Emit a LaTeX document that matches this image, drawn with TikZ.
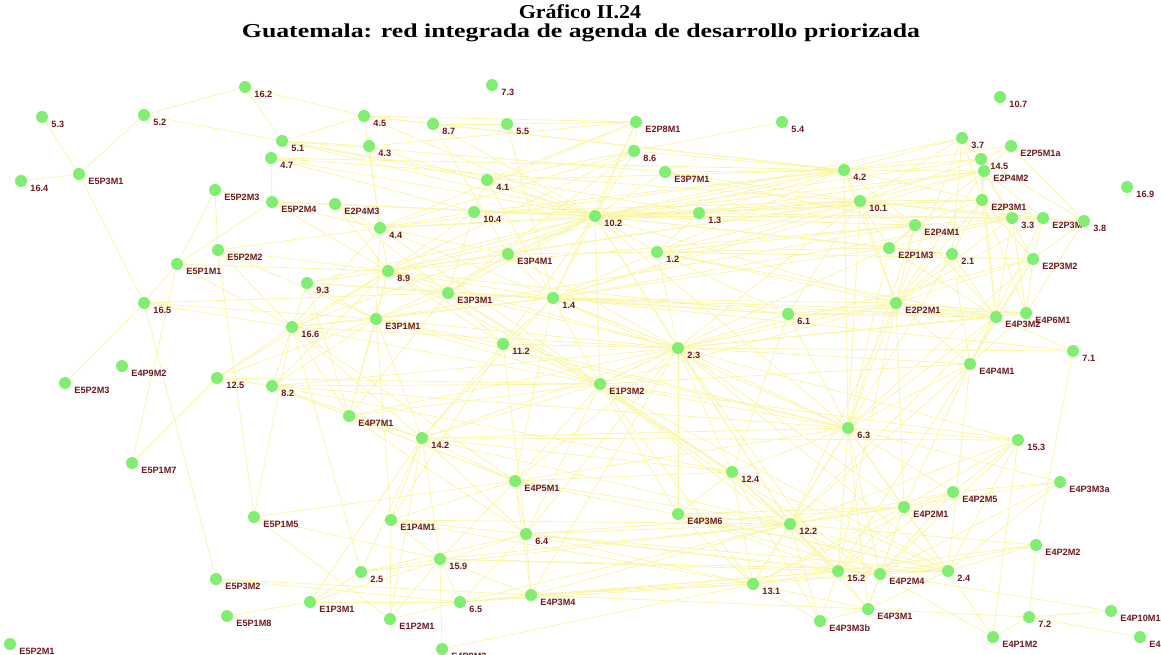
\documentclass[tikz,border=0pt]{standalone}
\usepackage{fontspec}
\setmainfont{Liberation Serif}
\newfontfamily\lblfont{Liberation Sans}
\usetikzlibrary{backgrounds}
\definecolor{dotgreen}{RGB}{128,238,112}
\definecolor{edgeyellow}{RGB}{250,245,165}
\definecolor{lblred}{RGB}{112,24,28}
\tikzset{
    my-dot/.style={
      circle, fill=dotgreen, minimum size=0.3cm, inner sep=0pt
    },
    my-label/.style={
      anchor=west, inner sep=0pt, label distance=3.8pt, text=lblred,
      font=\lblfont\bfseries\fontsize{6.5}{7}\selectfont
    },
    my-edge/.style={
      draw=edgeyellow, line width=0.55pt
    },
    my-title/.style={
      inner sep=0pt, font=\bfseries\fontsize{14}{16}\selectfont
    },
}
\newcommand{\dotnode}[4]{\node[my-dot, label={[my-label]-38:#4}] (#1) at (#2,#3) {};}

\begin{document}
\begin{tikzpicture}[x={(0.025cm,0)}, y={(0,-0.025cm)}]

        \useasboundingbox (0,0) rectangle (1161,655);
        \clip (0,0) rectangle (1161,655);

        % TITLE
        \node[my-title] (TITLE1) at (580,12) {\scalebox{1.12}[1]{Gráfico II.24}};
        \node[my-title] (TITLE2) at (581,33) {\scalebox{1.31}[1]{Guatemala: red integrada de agenda de desarrollo priorizada}};

        % TOP LEFT
        \dotnode{N16-2}{245}{87}{16.2}
        \dotnode{N5-3}{42}{117}{5.3}
        \dotnode{N5-2}{144}{115}{5.2}
        \dotnode{N4-5}{364}{116}{4.5}
        \dotnode{N5-1}{282}{141}{5.1}
        \dotnode{N4-3}{369}{146}{4.3}
        \dotnode{N4-7}{271}{158}{4.7}
        \dotnode{E5P3M1}{79}{174}{E5P3M1}
        \dotnode{N16-4}{21}{181}{16.4}
        \dotnode{E5P2M3A}{215}{190}{E5P2M3}
        \dotnode{E5P2M4}{272}{202}{E5P2M4}
        \dotnode{E2P4M3}{335}{204}{E2P4M3}
        \dotnode{N4-4}{380}{228}{4.4}

        % TOP CENTRE
        \dotnode{N7-3}{492}{85}{7.3}
        \dotnode{N8-7}{433}{124}{8.7}
        \dotnode{N5-5}{507}{124}{5.5}
        \dotnode{E2P8M1}{636}{122}{E2P8M1}
        \dotnode{N8-6}{634}{151}{8.6}
        \dotnode{E3P7M1}{665}{172}{E3P7M1}
        \dotnode{N4-1}{487}{180}{4.1}
        \dotnode{N10-4}{474}{212}{10.4}
        \dotnode{N10-2}{595}{216}{10.2}
        \dotnode{N1-3}{699}{213}{1.3}

        % TOP RIGHT
        \dotnode{N10-7}{1000}{97}{10.7}
        \dotnode{N5-4}{782}{122}{5.4}
        \dotnode{N3-7}{962}{138}{3.7}
        \dotnode{E2P5M1a}{1011}{146}{E2P5M1a}
        \dotnode{N14-5}{981}{159}{14.5}
        \dotnode{N4-2}{844}{170}{4.2}
        \dotnode{E2P4M2}{984}{171}{E2P4M2}
        \dotnode{N16-9}{1127}{187}{16.9}
        \dotnode{N10-1}{860}{201}{10.1}
        \dotnode{E2P3M1}{982}{200}{E2P3M1}
        \dotnode{N3-3}{1012}{218}{3.3}
        \dotnode{E2P3M3}{1043}{218}{E2P3M}
        \dotnode{N3-8}{1084}{221}{3.8}
        \dotnode{E2P4M1}{915}{225}{E2P4M1}
        \dotnode{E2P1M3}{889}{248}{E2P1M3}
        \dotnode{N2-1}{952}{254}{2.1}
        \dotnode{E2P3M2}{1033}{259}{E2P3M2}
        \dotnode{E2P2M1}{896}{303}{E2P2M1}
        \dotnode{N6-1}{788}{314}{6.1}
        \dotnode{E4P3M2}{996}{317}{E4P3M2}
        \dotnode{E4P6M1}{1026}{313}{E4P6M1}
        \dotnode{N7-1}{1073}{351}{7.1}
        \dotnode{E4P4M1}{970}{364}{E4P4M1}

        % MIDDLE LEFT
        \dotnode{E5P2M2}{218}{250}{E5P2M2}
        \dotnode{E5P1M1}{177}{264}{E5P1M1}
        \dotnode{N8-9}{388}{271}{8.9}
        \dotnode{N9-3}{307}{283}{9.3}
        \dotnode{N16-5}{144}{303}{16.5}
        \dotnode{E3P1M1}{376}{319}{E3P1M1}
        \dotnode{N16-6}{292}{327}{16.6}
        \dotnode{E4P9M2}{122}{366}{E4P9M2}
        \dotnode{E5P2M3B}{65}{383}{E5P2M3}
        \dotnode{N12-5}{217}{378}{12.5}
        \dotnode{N8-2}{272}{386}{8.2}
        \dotnode{E4P7M1}{349}{416}{E4P7M1}
        \dotnode{E5P1M7}{132}{463}{E5P1M7}

        % MIDDLE
        \dotnode{E3P4M1}{508}{254}{E3P4M1}
        \dotnode{N1-2}{657}{252}{1.2}
        \dotnode{E3P3M1}{448}{293}{E3P3M1}
        \dotnode{N1-4}{553}{298}{1.4}
        \dotnode{N11-2}{503}{344}{11.2}
        \dotnode{N2-3}{678}{348}{2.3}
        \dotnode{E1P3M2}{600}{384}{E1P3M2}
        \dotnode{N14-2}{422}{438}{14.2}
        \dotnode{E4P5M1}{515}{481}{E4P5M1}
        \dotnode{N12-4}{732}{472}{12.4}

        % MIDDLE RIGHT
        \dotnode{N6-3}{848}{428}{6.3}
        \dotnode{N15-3}{1018}{440}{15.3}
        \dotnode{E4P3M3a}{1060}{482}{E4P3M3a}
        \dotnode{E4P2M5}{953}{492}{E4P2M5}
        \dotnode{E4P2M1}{904}{507}{E4P2M1}

        % BOTTOM LEFT
        \dotnode{E5P1M5}{254}{517}{E5P1M5}
        \dotnode{E5P3M2}{216}{579}{E5P3M2}
        \dotnode{N2-5}{361}{572}{2.5}
        \dotnode{E1P3M1}{310}{602}{E1P3M1}
        \dotnode{E5P1M8}{227}{616}{E5P1M8}
        \dotnode{E5P2M1}{10}{644}{E5P2M1}

        % BOTTOM CENTRE
        \dotnode{E1P4M1}{391}{520}{E1P4M1}
        \dotnode{E4P3M6}{678}{514}{E4P3M6}
        \dotnode{N6-4}{526}{534}{6.4}
        \dotnode{N15-9}{440}{559}{15.9}
        \dotnode{N13-1}{753}{584}{13.1}
        \dotnode{N6-5}{460}{602}{6.5}
        \dotnode{E4P3M4}{531}{595}{E4P3M4}
        \dotnode{E1P2M1}{390}{619}{E1P2M1}
        \dotnode{E4P8M2}{442}{649}{E4P8M2}

        % BOTTOM RIGHT
        \dotnode{N12-2}{790}{524}{12.2}
        \dotnode{E4P2M2}{1036}{545}{E4P2M2}
        \dotnode{N15-2}{838}{571}{15.2}
        \dotnode{E4P2M4}{880}{574}{E4P2M4}
        \dotnode{N2-4}{948}{571}{2.4}
        \dotnode{E4P3M1}{868}{609}{E4P3M1}
        \dotnode{E4P3M3b}{820}{621}{E4P3M3b}
        \dotnode{N7-2}{1029}{617}{7.2}
        \dotnode{E4P10M1}{1111}{611}{E4P10M1}
        \dotnode{E4P1M2}{993}{637}{E4P1M2}
        \dotnode{E4P1M1}{1140}{637}{E4P1M1}

        % EDGES
        \begin{pgfonlayer}{background}
        % top left
        \foreach \a/\b in {E5P3M1/N5-3, E5P3M1/N16-4, E5P3M1/N5-2, E5P3M1/N16-5,
            N5-2/N16-2, N5-2/N5-1, N16-2/N5-1, N16-2/N4-5,
            N4-5/N5-1, N4-5/E2P8M1, N4-5/N8-7, N4-5/N4-4, N4-5/N4-2, N4-5/N10-2,
            N8-7/N5-5, N8-7/N10-2, N8-7/N4-2, N8-7/E3P4M1, N5-5/E2P8M1, N5-5/N1-4,
            N5-1/N4-1, N5-1/N10-2, N5-1/N1-3, N5-1/E3P7M1, N5-1/N4-3,
            N4-7/E5P2M4, N4-7/N10-2, N4-7/N4-2, N4-7/N10-4, N4-7/N10-1,
            N4-3/N4-4, N4-3/N10-2, N4-3/E2P8M1,
            E5P2M3A/E5P1M1, E5P2M3A/E5P2M2, E5P2M3A/N4-4,
            E5P2M4/E5P1M1, E5P2M4/E2P4M3, E5P2M4/N10-2, E5P2M4/N8-9,
            E2P4M3/N4-4, E2P4M3/N10-2, E2P4M3/N8-9, E2P4M3/E3P3M1,
            N4-4/N10-4, N4-4/N10-2, N4-4/N8-9, N4-4/N1-3, N4-4/E3P4M1, N4-4/E2P8M1,
            N4-4/N8-6, N4-4/N16-6, N4-4/E3P1M1, N4-4/N4-2, N4-4/N2-3, N4-4/E1P3M2}
            \draw[my-edge] (\a) -- (\b);
        % top centre
        \foreach \a/\b in {N4-1/N10-2, N4-1/N10-4, N4-1/N4-2, N4-1/E2P8M1, N4-1/N1-4, N5-4/N4-1,
            N10-4/N10-2, N10-4/N4-2, N10-4/N1-3, N10-4/N8-9, N10-4/E3P3M1, N10-4/N10-1,
            N10-2/N1-3, N10-2/N4-2, N10-2/N10-1, N10-2/E2P4M1, N10-2/E2P3M1, N10-2/N3-3,
            N10-2/N8-9, N10-2/E3P4M1, N10-2/N1-4, N10-2/N2-3, N10-2/E1P3M2, N10-2/N1-2,
            N10-2/N8-6, N10-2/E2P8M1, N10-2/E3P7M1, N10-2/E3P3M1, N10-2/N11-2, N10-2/E2P1M3,
            N10-2/E2P2M1, N10-2/N3-7, N10-2/N14-5, N10-2/E2P4M2, N10-2/N6-3, N10-2/E3P1M1,
            N10-2/N16-6, N10-2/N9-3, N10-2/N12-2, N10-2/E2P3M3, N10-2/N2-1,
            N1-3/N4-2, N1-3/N10-1, N1-3/E2P3M1, N1-3/N3-3, N1-3/N1-2, N1-3/E2P4M2,
            E2P8M1/N8-6, E2P8M1/N1-4, N8-6/N4-2, N8-6/N8-9, N8-6/E3P3M1,
            E3P7M1/N4-2, E3P7M1/N10-1, E3P7M1/E2P4M1}
            \draw[my-edge] (\a) -- (\b);
        % top right
        \foreach \a/\b in {N4-2/N3-7, N4-2/N14-5, N4-2/E2P4M2, N4-2/E2P3M1, N4-2/N10-1,
            N4-2/E2P2M1, N4-2/N1-2, N4-2/N6-3, N4-2/N8-9, N4-2/E2P4M1, N4-2/E2P5M1a,
            N3-7/N14-5, N3-7/E2P4M2, N3-7/N10-1, N3-7/E2P3M1, N3-7/N2-1, N3-7/E2P2M1,
            N14-5/E2P4M2, N14-5/N3-8, N14-5/N10-1, N14-5/E2P3M1, N14-5/E4P3M2,
            E2P5M1a/E2P4M2, E2P5M1a/N3-8, E2P5M1a/N14-5,
            E2P4M2/E2P3M1, E2P4M2/N3-3, E2P4M2/E2P3M3, E2P4M2/N10-1, E2P4M2/E2P1M3,
            E2P4M2/E2P3M2, E2P4M2/E2P2M1, E2P4M2/N1-4,
            N10-1/E2P3M1, N10-1/N3-3, N10-1/E2P3M3, N10-1/E2P2M1, N10-1/E2P4M1, N10-1/N1-2,
            N10-1/N1-4, N10-1/N6-3, N10-1/N2-3, N10-1/E2P1M3, N10-1/N6-1, N10-1/E3P4M1, N10-1/N8-9,
            E2P3M1/N3-3, E2P3M1/E2P3M3, E2P3M1/E4P3M2, E2P3M1/E2P4M1, E2P3M1/E2P3M2,
            E2P3M1/E4P6M1, E2P3M1/E2P2M1, E2P3M1/N2-1,
            N3-3/E2P3M3, N3-3/E4P6M1, N3-3/E2P4M1, N3-3/E2P2M1, N3-3/N3-8, N3-3/E2P1M3,
            N3-3/N1-4, N3-3/E4P3M2, E2P3M3/N3-8, E2P3M3/E2P3M2, E2P3M3/E4P4M1, E2P3M3/E2P2M1,
            N3-8/E2P3M2, N3-8/E4P6M1,
            E2P4M1/E2P2M1, E2P4M1/E2P1M3, E2P4M1/N6-3, E2P4M1/E4P3M2, E2P4M1/N1-2,
            E2P4M1/N8-9, E2P4M1/E3P1M1,
            E2P1M3/N2-1, E2P1M3/E4P3M2, E2P1M3/N6-3, E2P1M3/N1-2, E2P1M3/N1-4, E2P1M3/E1P3M2,
            N2-1/E4P3M2, N2-1/E2P2M1, N2-1/E4P4M1, N2-1/N6-3,
            E2P3M2/E2P2M1, E2P3M2/E4P4M1, E2P3M2/E4P3M2, E2P3M2/E4P6M1, E2P3M2/N2-3,
            E2P3M2/N1-2, E2P3M2/N6-3}
            \draw[my-edge] (\a) -- (\b);
        % middle right
        \foreach \a/\b in {E2P2M1/N6-1, E2P2M1/E4P3M2, E2P2M1/E4P6M1, E2P2M1/N1-4, E2P2M1/N2-3,
            E2P2M1/N6-3, E2P2M1/E4P4M1, E2P2M1/N12-2, E2P2M1/E4P2M1, E2P2M1/N1-2,
            E2P2M1/E1P3M2, E2P2M1/N15-2,
            N1-2/N1-4, N1-2/N2-3, N1-2/E3P4M1, N1-2/E4P3M2, N1-2/N6-1,
            N6-1/N1-4, N6-1/N2-3, N6-1/N6-3, N6-1/E4P3M2, N6-1/N12-4, N6-1/E4P6M1,
            E4P3M2/E4P6M1, E4P3M2/N7-1, E4P3M2/E4P4M1, E4P3M2/N1-4, E4P3M2/N2-3,
            E4P3M2/N6-3, E4P3M2/N12-2, E4P6M1/N1-4, E4P6M1/E4P4M1, E4P6M1/N2-3,
            N7-1/E4P2M2, N7-1/N2-3,
            E4P4M1/N2-4, E4P4M1/N6-3, E4P4M1/N2-3, E4P4M1/E1P3M2, E4P4M1/N12-2,
            E4P4M1/E4P2M1, E4P4M1/N15-2}
            \draw[my-edge] (\a) -- (\b);
        % middle left
        \foreach \a/\b in {E5P2M2/E5P1M5, E5P2M2/N16-6, E5P2M2/N4-4, E5P2M2/N8-9, E5P2M2/E3P1M1,
            E5P1M1/N16-5, E5P1M1/N8-9, E5P1M1/E5P1M7, E5P1M1/N16-6,
            N16-5/E5P2M3B, N16-5/E5P3M2, N16-5/E3P1M1, N16-5/N16-6, N16-5/E3P3M1,
            E5P1M7/N12-5,
            N9-3/N16-6, N9-3/E3P1M1, N9-3/N8-9, N9-3/N1-4, N9-3/E4P7M1, N9-3/E3P3M1,
            N8-9/E3P3M1, N8-9/N1-4, N8-9/E3P1M1, N8-9/N16-6, N8-9/N2-3, N8-9/E1P3M2,
            N8-9/N11-2, N8-9/N8-2, N8-9/E4P7M1, N8-9/E3P4M1, N8-9/N6-1,
            E3P1M1/N16-6, E3P1M1/E3P3M1, E3P1M1/N1-4, E3P1M1/N2-3, E3P1M1/N11-2,
            E3P1M1/E4P7M1, E3P1M1/N14-2, E3P1M1/N8-2, E3P1M1/E1P3M2, E3P1M1/E1P4M1, E3P1M1/N6-3,
            N16-6/N8-2, N16-6/N12-5, N16-6/N14-2, N16-6/E4P7M1, N16-6/N2-3, N16-6/E1P3M2,
            N16-6/E4P5M1, N16-6/E5P1M5, N16-6/N1-4, N16-6/N2-5,
            N12-5/N8-9, N12-5/N8-2, N12-5/E1P3M2, N12-5/E3P1M1,
            N8-2/E4P7M1, N8-2/N14-2, N8-2/E1P3M2, N8-2/N2-3, N8-2/E4P5M1, N8-2/N6-3, N8-2/N12-4,
            E4P7M1/N14-2, E4P7M1/E1P3M2, E4P7M1/N2-3, E4P7M1/E3P3M1, E4P7M1/N6-4, E4P7M1/E4P5M1}
            \draw[my-edge] (\a) -- (\b);
        % middle
        \foreach \a/\b in {E3P4M1/N1-4, E3P4M1/E3P3M1, E3P4M1/N2-3,
            E3P3M1/N1-4, E3P3M1/N2-3, E3P3M1/N11-2, E3P3M1/E1P3M2, E3P3M1/N6-1, E3P3M1/N12-4,
            N1-4/N2-3, N1-4/N11-2, N1-4/E1P3M2, N1-4/N6-3, N1-4/N14-2, N1-4/E4P5M1, N1-4/N7-1,
            N11-2/N2-3, N11-2/E1P3M2, N11-2/N14-2, N11-2/N6-4, N11-2/N6-3, N11-2/E1P4M1,
            N2-3/E1P3M2, N2-3/N6-3, N2-3/N12-4, N2-3/N12-2, N2-3/N15-3, N2-3/E4P2M1,
            N2-3/E4P5M1, N2-3/N14-2, N2-3/N15-2, N2-3/E4P3M6, N2-3/N2-4, N2-3/N6-4, N2-3/E4P3M4,
            E1P3M2/N6-3, E1P3M2/N12-4, E1P3M2/N12-2, E1P3M2/N15-3, E1P3M2/N14-2, E1P3M2/E4P5M1,
            E1P3M2/N15-2, E1P3M2/N2-4, E1P3M2/E4P2M4, E1P3M2/N13-1, E1P3M2/E4P3M6, E1P3M2/N6-4,
            N14-2/N6-3, N14-2/N12-4, N14-2/E4P5M1, N14-2/N15-9, N14-2/E1P4M1, N14-2/N12-2,
            N14-2/N6-4, N14-2/E1P2M1, N14-2/N15-3}
            \draw[my-edge] (\a) -- (\b);
        % bottom right
        \foreach \a/\b in {N6-3/N15-3, N6-3/N12-2, N6-3/N15-2, N6-3/E4P2M1, N6-3/E4P2M5,
            N6-3/N2-4, N6-3/N12-4, N6-3/E4P2M4, N6-3/E4P3M3a, N6-3/E4P3M1, N6-3/N13-1, N6-3/E4P5M1,
            N15-3/E4P2M5, N15-3/N12-2, N15-3/N2-4, N15-3/E4P2M1, N15-3/E4P1M2, N15-3/E4P2M4,
            E4P3M3a/E4P2M5, E4P3M3a/N12-2, E4P3M3a/N2-4, E4P3M3a/E4P2M4,
            E4P2M5/N12-2, E4P2M5/N15-2, E4P2M5/E4P2M4, E4P2M5/N13-1, E4P2M5/E4P2M1,
            E4P2M1/N12-2, E4P2M1/N15-2, E4P2M1/N2-4, E4P2M1/E4P2M4, E4P2M1/E4P3M1,
            E4P2M1/N13-1, E4P2M1/E4P3M6,
            N12-4/N12-2, N12-4/N15-2, N12-4/N13-1, N12-4/E4P5M1, N12-4/E4P3M6, N12-4/N2-4, N12-4/E4P3M3b,
            E4P3M6/N12-2, E4P3M6/N15-2, E4P3M6/N2-4, E4P3M6/E4P2M4, E4P3M6/N13-1,
            N12-2/N15-2, N12-2/E4P2M4, N12-2/N2-4, N12-2/E4P2M2, N12-2/N13-1, N12-2/E4P3M1, N12-2/E4P3M3b,
            N13-1/N15-2, N13-1/E4P3M1, N13-1/E4P2M4,
            N15-2/E4P2M4, N15-2/N2-4, N15-2/E4P3M1, N15-2/E4P3M3b, N15-2/E4P2M2,
            E4P2M4/N2-4, E4P2M4/E4P3M1, E4P2M4/E4P1M2, E4P2M4/E4P10M1, E4P2M4/E4P2M2,
            N2-4/E4P2M2, N2-4/E4P1M2, N2-4/E4P3M1, E4P3M1/N7-2, E4P3M1/E4P3M3b,
            E4P2M2/N7-2, N7-2/E4P10M1, N7-2/E4P1M2, N7-2/E4P1M1, E4P3M3b/N13-1}
            \draw[my-edge] (\a) -- (\b);
        % bottom left
        \foreach \a/\b in {E4P5M1/N12-2, E4P5M1/N6-4, E4P5M1/E1P4M1, E4P5M1/N15-9, E4P5M1/N2-4,
            E4P5M1/E4P3M4, E5P1M5/E4P5M1, E5P1M5/N15-9, E5P1M5/E1P2M1,
            E5P3M2/E4P3M4, E5P3M2/N6-5, E5P1M8/E1P3M1,
            E1P3M1/N2-5, E1P3M1/N6-5, E1P3M1/N6-4, E1P3M1/N14-2,
            N2-5/N6-4, N2-5/N15-9, N2-5/N12-2, N2-5/N14-2,
            E1P4M1/N15-9, E1P4M1/N6-4, E1P4M1/N12-2, E1P4M1/N13-1, E1P4M1/E1P2M1,
            N6-4/N12-2, N6-4/N15-2, N6-4/N13-1, N6-4/E4P3M4, N6-4/N6-5, N6-4/N2-4,
            N6-4/E4P2M4, N6-4/E4P2M1,
            N15-9/N12-2, N15-9/N15-2, N15-9/E4P8M2, N15-9/E4P3M4, N15-9/N6-5, N15-9/E1P2M1, N15-9/N2-4,
            N6-5/E4P3M4, N6-5/N12-2, N6-5/N15-2, N6-5/E1P2M1, N6-5/N13-1,
            E4P3M4/N12-2, E4P3M4/N15-2, E4P3M4/N13-1, E4P3M4/E4P3M1, E4P3M4/E4P2M4,
            E4P8M2/N13-1}
            \draw[my-edge] (\a) -- (\b);
        \end{pgfonlayer}

    \end{tikzpicture}
\end{document}
